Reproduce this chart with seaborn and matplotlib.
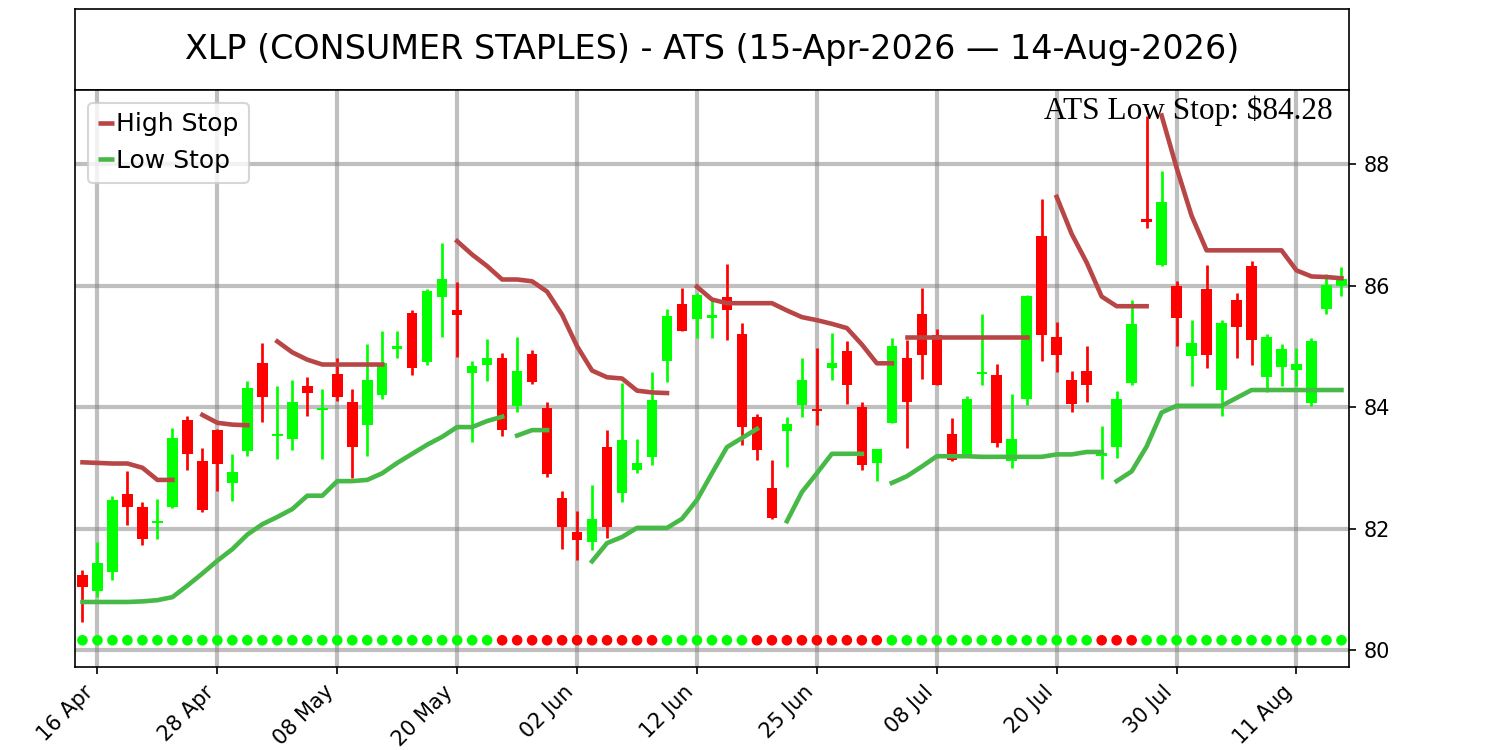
import pandas as pd
import numpy as np
import matplotlib
matplotlib.use('Agg')
import matplotlib.pyplot as plt
from matplotlib.lines import Line2D
import seaborn as sns

ticker = 'XLP (CONSUMER STAPLES)'
holidays = ['2026-05-25', '2026-06-19', '2026-07-03']

opens = [81.24, 80.97, 81.29, 82.56, 82.35, 82.09, 82.35, 83.78, 83.11, 83.62,
         82.75, 83.27, 84.73, 83.52, 83.47, 84.35, 83.95, 84.55, 84.09, 83.70,
         84.19, 84.95, 85.55, 84.74, 85.81, 85.59, 84.56, 84.70, 84.81, 84.01,
         84.88, 83.98, 82.51, 81.94, 81.77, 83.35, 82.58, 82.96, 83.18, 84.75,
         85.70, 85.45, 85.46, 85.81, 85.20, 83.84, 82.67, 83.61, 84.04, 83.97,
         84.64, 84.93, 84.00, 83.08, 83.74, 84.81, 85.54, 85.19, 83.56, 83.20,
         84.54, 84.53, 83.11, 84.13, 86.81, 85.15, 84.44, 84.59, 83.20, 83.35,
         84.40, 87.10, 86.34, 86.00, 84.84, 85.94, 84.28, 85.76, 86.32, 84.50,
         84.66, 84.61, 84.07, 85.61, 86.00]
highs = [81.31, 81.78, 82.54, 82.95, 82.44, 82.49, 83.66, 83.86, 83.33, 83.64,
         83.23, 84.43, 85.05, 84.35, 84.45, 84.50, 84.30, 84.80, 84.29, 85.03,
         85.26, 85.26, 85.59, 85.94, 86.70, 86.06, 84.76, 85.12, 84.89, 85.16,
         84.94, 84.09, 82.62, 82.28, 82.72, 83.62, 84.40, 83.48, 84.58, 85.62,
         85.96, 85.87, 85.77, 86.36, 85.38, 83.88, 83.12, 83.84, 84.81, 84.98,
         85.22, 85.08, 84.09, 83.31, 85.14, 85.11, 85.96, 85.29, 83.82, 84.18,
         85.53, 84.71, 84.22, 85.84, 87.43, 85.40, 84.59, 85.00, 83.69, 84.26,
         85.76, 88.79, 87.88, 86.08, 85.43, 86.34, 85.43, 85.88, 86.40, 85.21,
         85.04, 84.98, 85.13, 86.19, 86.31]
lows = [80.46, 80.87, 81.16, 82.06, 81.73, 81.83, 82.34, 82.96, 82.27, 82.61,
        82.46, 83.19, 83.75, 83.14, 83.29, 83.85, 83.14, 84.10, 82.83, 83.20,
        84.14, 84.80, 84.52, 84.69, 85.16, 84.82, 83.43, 84.43, 83.53, 83.91,
        84.38, 82.84, 81.67, 81.48, 81.64, 81.84, 82.43, 82.92, 83.04, 84.41,
        85.25, 85.14, 85.14, 85.11, 83.37, 83.12, 82.16, 83.02, 83.84, 83.70,
        84.45, 84.05, 82.96, 82.78, 83.73, 83.33, 84.46, 84.36, 83.11, 83.19,
        84.37, 83.35, 82.99, 84.04, 84.76, 84.57, 83.92, 84.08, 82.81, 83.16,
        84.37, 86.94, 86.33, 85.00, 84.34, 84.64, 83.86, 84.81, 84.69, 84.25,
        84.34, 84.35, 84.01, 85.53, 85.82]
closes = [81.04, 81.43, 82.47, 82.36, 81.82, 82.12, 83.49, 83.23, 82.31, 83.06,
          82.93, 84.31, 84.16, 83.55, 84.08, 84.23, 83.98, 84.16, 83.35, 84.45,
          84.72, 85.00, 84.64, 85.91, 86.11, 85.51, 84.68, 84.81, 83.62, 84.60,
          84.42, 82.89, 82.02, 81.81, 82.16, 82.02, 83.45, 83.08, 84.12, 85.50,
          85.26, 85.84, 85.51, 85.59, 83.67, 83.30, 82.17, 83.72, 84.45, 83.94,
          84.72, 84.36, 83.05, 83.31, 85.01, 84.09, 84.85, 84.37, 83.13, 84.13,
          84.58, 83.40, 83.47, 85.83, 85.18, 84.85, 84.05, 84.37, 83.24, 84.13,
          85.36, 87.05, 87.37, 85.47, 85.05, 84.85, 85.38, 85.32, 85.10, 85.15,
          84.96, 84.71, 85.09, 86.01, 86.10]

# stop lines, as (first bar, values) pieces
high_stop_segments = [
    (0, [83.09, 83.08, 83.07, 83.07, 83.00, 82.80, 82.80]),
    (8, [83.87, 83.74, 83.71, 83.70]),
    (13, [85.08, 84.90, 84.78, 84.70, 84.70, 84.70, 84.70, 84.70]),
    (25, [86.73, 86.51, 86.32, 86.10, 86.10, 86.07, 85.90, 85.52, 85.00, 84.60,
          84.49, 84.47, 84.27, 84.24, 84.23]),
    (41, [85.98, 85.77, 85.71, 85.71, 85.71, 85.71, 85.59, 85.48, 85.43, 85.37,
          85.30, 85.03, 84.72, 84.72]),
    (55, [85.15, 85.15, 85.15, 85.15, 85.15, 85.15, 85.15, 85.15, 85.15]),
    (65, [87.46, 86.85, 86.38, 85.82, 85.66, 85.66, 85.66]),
    (72, [88.80, 87.94, 87.15, 86.58, 86.58, 86.58, 86.58, 86.58, 86.58, 86.25,
          86.15, 86.14, 86.12]),
]
low_stop_segments = [
    (0, [80.79, 80.79, 80.79, 80.79, 80.80, 80.82, 80.87, 81.06, 81.26, 81.47,
         81.66, 81.90, 82.07, 82.19, 82.32, 82.54, 82.54, 82.78, 82.78, 82.80,
         82.91, 83.08, 83.23, 83.38, 83.51, 83.67, 83.67, 83.77, 83.84]),
    (29, [83.53, 83.62, 83.62]),
    (34, [81.46, 81.76, 81.86, 82.01, 82.01, 82.01, 82.16, 82.47, 82.91, 83.34,
          83.49, 83.64]),
    (47, [82.12, 82.60, 82.91, 83.23, 83.23, 83.23]),
    (54, [82.75, 82.86, 83.02, 83.19, 83.19, 83.19, 83.18, 83.18, 83.18, 83.18,
          83.18, 83.22, 83.22, 83.26, 83.26]),
    (69, [82.78, 82.94, 83.35, 83.91, 84.02, 84.02, 84.02, 84.02, 84.15, 84.28,
          84.28, 84.28, 84.28, 84.28, 84.28, 84.28]),
]

# bars where the trend dot is red
red_runs = [(28, 38), (45, 53), (68, 70)]

dates = pd.bdate_range('2026-04-15', '2026-08-14')
dates = dates[~dates.isin(pd.to_datetime(holidays))]

df = pd.DataFrame({'date': dates, 'open': opens, 'high': highs, 'low': lows, 'close': closes})
df['idx'] = np.arange(len(df))
df['up'] = df['close'] >= df['open']
df['trend'] = 'up'
for a, b in red_runs:
    df.loc[a:b, 'trend'] = 'down'


def seg_frame(segments):
    rows = []
    for s, (start, vals) in enumerate(segments):
        for i, v in enumerate(vals):
            rows.append({'idx': start + i, 'stop': v, 'seg': s})
    return pd.DataFrame(rows)


high_df = seg_frame(high_stop_segments)
low_df = seg_frame(low_stop_segments)

fig = plt.figure(figsize=(10, 5), dpi=150)
ax_t = fig.add_axes([0.05, 0.88, 0.8493, 0.108])
ax = fig.add_axes([0.05, 0.1107, 0.8493, 0.7693])

ax_t.set_xticks([])
ax_t.set_yticks([])
ax_t.text(0.5, 0.5, f"{ticker} - ATS ({dates[0]:%d-%b-%Y} \u2014 {dates[-1]:%d-%b-%Y})",
          ha='center', va='center', fontsize=16, transform=ax_t.transAxes)

ax.set_axisbelow(True)
ax.grid(True, color='gray', alpha=0.5, linewidth=2)

# candles
colors = np.where(df['up'], 'lime', 'red')
ax.vlines(df['idx'], df['low'], df['high'], colors=colors, linewidth=1.3, zorder=3)
body_lo = np.minimum(df['open'], df['close'])
body_h = np.maximum(np.abs(df['close'] - df['open']), 0.03)
ax.bar(df['idx'], body_h, bottom=body_lo, width=0.7, color=colors, linewidth=0, zorder=3)

sns.lineplot(data=high_df, x='idx', y='stop', units='seg', estimator=None,
             color='#b94646', linewidth=2.2, ax=ax, zorder=4)
sns.lineplot(data=low_df, x='idx', y='stop', units='seg', estimator=None,
             color='#46b946', linewidth=2.2, ax=ax, zorder=4)

df['dot_y'] = 80.16
sns.scatterplot(data=df, x='idx', y='dot_y', hue='trend', palette={'up': 'lime', 'down': 'red'},
                s=26, linewidth=0, legend=False, ax=ax, zorder=4)

ax.set_xlim(-0.5, 84.5)
ax.set_ylim(79.72, 89.22)
ax.set_xlabel('')
ax.set_ylabel('')
ticks = df['idx'][1::8]
ax.set_xticks(ticks)
ax.set_xticklabels([d.strftime('%d %b') for d in df['date'][1::8]], rotation=45, ha='right')
ax.set_yticks([80, 82, 84, 86, 88])
ax.yaxis.tick_right()

handles = [Line2D([], [], color='#b94646', lw=2.2, solid_capstyle='butt'),
           Line2D([], [], color='#46b946', lw=2.2, solid_capstyle='butt')]
ax.legend(handles, ['High Stop', 'Low Stop'], loc='upper left', fontsize=12,
          handlelength=0.65, handletextpad=0.1)

last_low = low_stop_segments[-1][1][-1]
ax.text(0.987, 0.99, f"ATS Low Stop: \\${last_low:.2f}", transform=ax.transAxes,
        ha='right', va='top', fontsize=15, family='Liberation Serif')

fig.savefig('out.png', dpi=150)
